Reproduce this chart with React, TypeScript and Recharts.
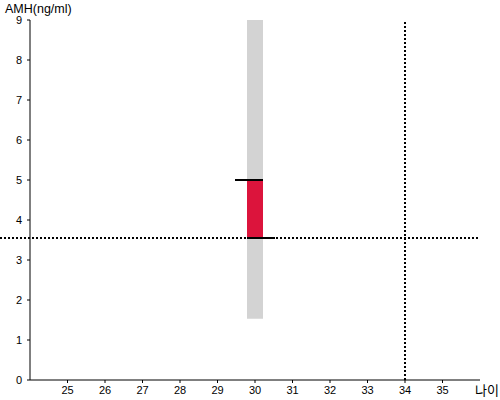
import { ComposedChart, Bar, XAxis, YAxis, ReferenceLine } from "recharts"

// 연령 구간 (x축)
const ageTicks = [25, 26, 27, 28, 29, 30, 31, 32, 33, 34, 35]
const amhTicks = [0, 1, 2, 3, 4, 5, 6, 7, 8, 9]

// 30세 기준 AMH 범위
const ages = [30]
const rangeLow = [1.53]
const rangeHigh = [9]
const boxLow = [3.55]
const boxHigh = [5]

// 사용자 값
const myAge = 34
const myAmh = 3.55

const data = ages.map((age, i) => ({
  age,
  range: [rangeLow[i], rangeHigh[i]],
  box: [boxLow[i], boxHigh[i]],
}))

const BoxShape = (props: { x?: number; y?: number; width?: number; height?: number }) => {
  const { x = 0, y = 0, width = 0, height = 0 } = props
  return (
    <g>
      <rect x={x} y={y} width={width} height={height} fill="#dc143c" />
      <line x1={x - 12} x2={x + width} y1={y} y2={y} stroke="#000" strokeWidth={2} />
      <line x1={x} x2={x + width + 12} y1={y + height} y2={y + height} stroke="#000" strokeWidth={2} />
    </g>
  )
}

const font = "Arial, 'Liberation Sans', sans-serif"

export default function App() {
  return (
    <div style={{ position: "absolute", left: 0, top: 0, width: 500, height: 400, fontFamily: font }}>
      <ComposedChart
        width={500}
        height={400}
        data={data}
        margin={{ top: 20, right: 20, left: 0, bottom: 0 }}
      >
        <XAxis
          xAxisId="main"
          dataKey="age"
          type="number"
          domain={[24, 36]}
          ticks={ageTicks}
          interval={0}
          height={20}
          tickSize={3}
          tickMargin={3}
          stroke="#000"
          tick={{ fontSize: 11, fill: "#000", fontFamily: font }}
        />
        <XAxis xAxisId="overlay" dataKey="age" type="number" domain={[24, 36]} hide />
        <YAxis
          domain={[0, 9]}
          ticks={amhTicks}
          interval={0}
          width={30}
          tickSize={3}
          tickMargin={5}
          stroke="#000"
          tick={{ fontSize: 11, fill: "#000", fontFamily: font }}
        />
        <Bar xAxisId="main" dataKey="range" fill="#d3d3d3" barSize={16} isAnimationActive={false} />
        <Bar xAxisId="overlay" dataKey="box" barSize={16} shape={<BoxShape />} isAnimationActive={false} />
        <ReferenceLine
          xAxisId="main"
          segment={[{ x: 23.2, y: myAmh }, { x: 36, y: myAmh }]}
          ifOverflow="visible"
          stroke="#000"
          strokeWidth={2}
          strokeDasharray="2 2"
        />
        <ReferenceLine
          xAxisId="main"
          x={myAge}
          stroke="#000"
          strokeWidth={2}
          strokeDasharray="2 2"
        />
      </ComposedChart>
      <div style={{ position: "absolute", left: 5, top: 2, fontSize: 12.5, color: "#000" }}>AMH(ng/ml)</div>
      <div
        style={{
          position: "absolute",
          left: 475,
          top: 382,
          fontSize: 13,
          color: "#000",
          fontFamily: "'Noto Sans CJK KR', sans-serif",
          lineHeight: "16px",
        }}
      >
        나이
      </div>
    </div>
  )
}
